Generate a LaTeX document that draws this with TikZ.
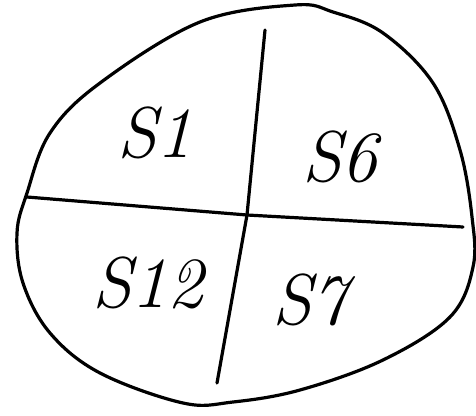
\documentclass[tikz,border=0pt]{standalone}
\begin{document}
\begin{tikzpicture}[x=1pt,y=-1pt,
  ink/.style={line width=3.2pt,line cap=round,line join=round},
  lbl/.style={font=\fontsize{72}{72}\selectfont\itshape,inner sep=0pt}]
\useasboundingbox (0,0) rectangle (476,415);
\draw[ink] plot[smooth cycle,tension=0.6] coordinates{
 (295,5) (333,12) (383,33) (433,83) (460,150) (472,217) (473,267)
 (450,317) (383,360) (300,390) (233,402) (183,403) (100,373) (50,333)
 (23,283) (17,233) (27,193) (50,133) (100,83) (200,22)};
\coordinate (hl) at (27,197);
\coordinate (hr) at (463,227);
\coordinate (vt) at (265,30);
\coordinate (vb) at (217,383);
\coordinate (c) at (247,215);
\draw[ink] (hl) -- (c) -- (hr);
\draw[ink] (vt) -- (c) -- (vb);
\node[lbl] (s1) at (155,133) {S1};
\node[lbl] (s6) at (340,157) {S6};
\node[lbl] (s12) at (148,283) {S12};
\node[lbl] (s7) at (310,300) {S7};
\end{tikzpicture}
\end{document}
